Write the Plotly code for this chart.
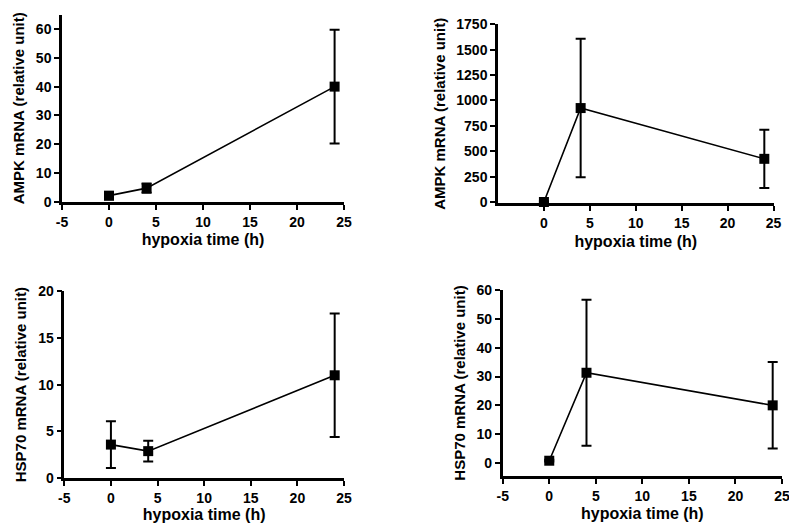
import plotly.graph_objects as go

W, H = 789, 523

time_h = [0, 4, 24]

ampk_a = [2.2, 4.8, 40.0]
ampk_a_err = [1.3, 1.6, 19.7]

ampk_b = [0, 925, 425]
ampk_b_err = [8, 682, 287]

hsp_a = [3.6, 2.9, 11.0]
hsp_a_err = [2.5, 1.1, 6.6]

hsp_b = [0.8, 31.3, 20.0]
hsp_b_err = [0.3, 25.3, 15.0]

x_ticks_full = [-5, 0, 5, 10, 15, 20, 25]
x_ticks_pos = [0, 5, 10, 15, 20, 25]

FONT = "Liberation Sans"

def px_x(a, b):
    return [a / W, b / W]

def px_y(top, bottom):
    return [1 - bottom / H, 1 - top / H]

def bold_labels(vals):
    return ["<b>%s</b>" % v for v in vals]

panels = [
    dict(y=ampk_a, e=ampk_a_err, xd=px_x(62, 344), yd=px_y(14.5, 202), yr=[0, 65],
         yt=list(range(0, 61, 10)), xr=[-5, 25], xt=x_ticks_full, title="AMPK mRNA (relative unit)"),
    dict(y=ampk_b, e=ampk_b_err, xd=px_x(498, 773.5), yd=px_y(24.3, 203.3), yr=[-13, 1750],
         yt=list(range(0, 1751, 250)), xr=[-5, 25], xt=x_ticks_pos, title="AMPK mRNA (relative unit)"),
    dict(y=hsp_a, e=hsp_a_err, xd=px_x(64.3, 344), yd=px_y(291, 478.3), yr=[0, 20],
         yt=list(range(0, 21, 5)), xr=[-5, 25], xt=x_ticks_full, title="HSP70 mRNA (relative unit)"),
    dict(y=hsp_b, e=hsp_b_err, xd=px_x(502.7, 782), yd=px_y(290, 476), yr=[-4.5, 60],
         yt=list(range(0, 61, 10)), xr=[-5, 25], xt=x_ticks_full, title="HSP70 mRNA (relative unit)"),
]

fig = go.Figure()
layout = {}
for i, p in enumerate(panels):
    n = "" if i == 0 else str(i + 1)
    fig.add_trace(go.Scatter(
        x=time_h, y=p["y"], mode="lines+markers",
        xaxis="x" + n, yaxis="y" + n,
        line=dict(color="black", width=1.6),
        marker=dict(symbol="square", size=10, color="black"),
        error_y=dict(type="data", array=p["e"], visible=True, color="black",
                     thickness=2, width=5),
        showlegend=False, cliponaxis=False,
    ))
    axcommon = dict(showline=True, linecolor="black", linewidth=2.5, showgrid=False,
                    zeroline=False, ticks="outside", ticklen=5, tickwidth=2, tickcolor="black",
                    tickfont=dict(family=FONT, size=14, color="black"),
                    ticklabeloverflow="allow",
                    automargin=False, fixedrange=True)
    layout["xaxis" + n] = dict(axcommon, domain=p["xd"], range=p["xr"], tickvals=p["xt"],
                               ticktext=bold_labels(p["xt"]),
                               anchor="y" + n,
                               title=dict(text="<b>hypoxia time (h)</b>", standoff=6,
                                          font=dict(family=FONT, size=16, color="black")))
    layout["yaxis" + n] = dict(axcommon, domain=p["yd"], range=p["yr"], tickvals=p["yt"],
                               ticktext=bold_labels(p["yt"]),
                               anchor="x" + n,
                               title=dict(text="<b>%s</b>" % p["title"], standoff=8,
                                          font=dict(family=FONT, size=15, color="black")))

fig.update_layout(**layout)
fig.update_layout(width=W, height=H, margin=dict(l=0, r=0, t=0, b=0),
                  paper_bgcolor="white", plot_bgcolor="white",
                  font=dict(family=FONT, color="black"))
fig.write_html("out.html")
